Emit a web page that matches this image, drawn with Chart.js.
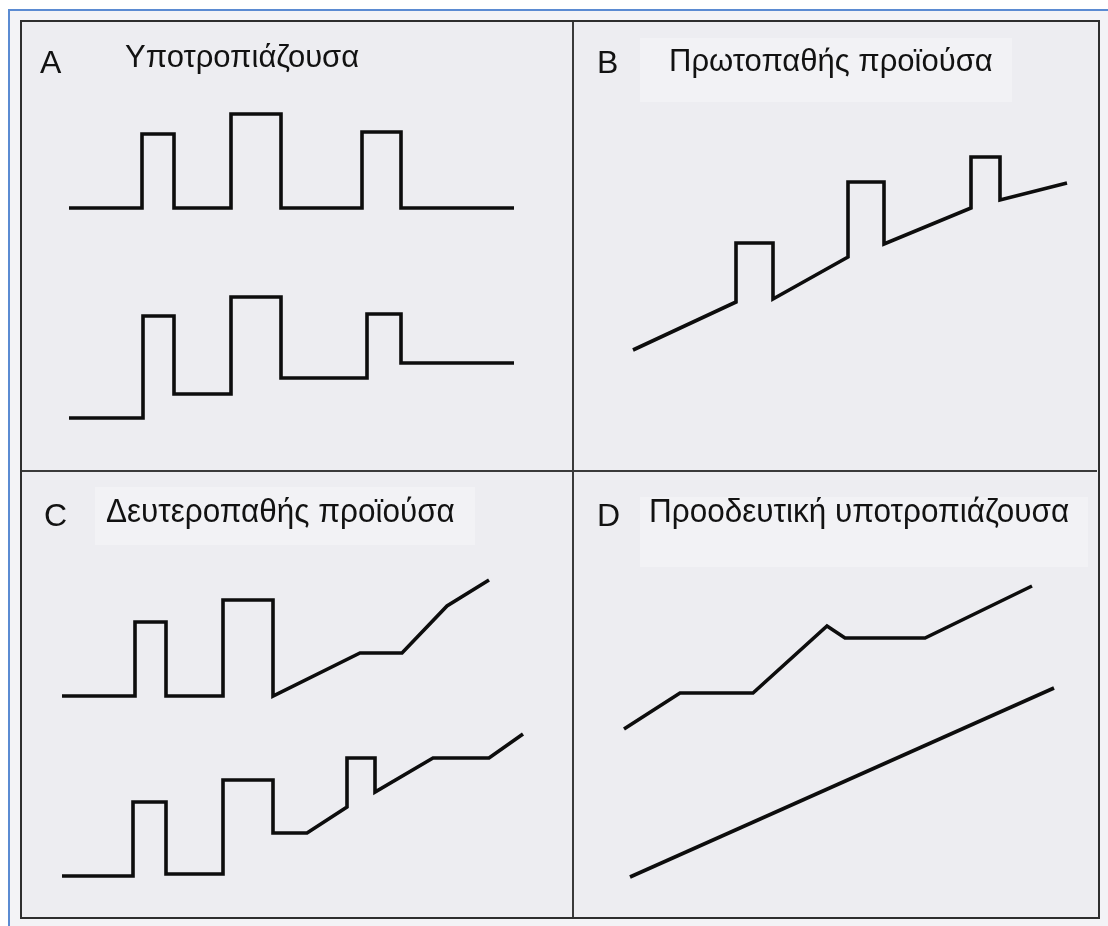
<!DOCTYPE html>
<html lang="el">
<head>
<meta charset="utf-8">
<title>Μορφές πορείας νόσου</title>
<script src="https://cdn.jsdelivr.net/npm/chart.js@4.4.1/dist/chart.umd.min.js"></script>
<style>
    html, body { margin: 0; padding: 0; background: #ffffff; }
    #page { position: relative; width: 1108px; height: 926px; overflow: hidden; background: #ffffff; }
    #sheet { position: absolute; left: 10px; top: 11px; right: 0; bottom: 0; background: #f3f3f6; }
    #blueTop { position: absolute; left: 8px; top: 9px; right: 0; height: 2px; background: #5b8bd2; }
    #blueLeft { position: absolute; left: 8px; top: 9px; bottom: 0; width: 2px; background: #5b8bd2; }
    #frame { position: absolute; left: 20px; top: 20px; width: 1080px; height: 899px;
             box-sizing: border-box; border: 2px solid #2e2e2e; background: #ededf1; }
    #divV { position: absolute; left: 572px; top: 22px; width: 2px; height: 895px; background: #3a3a3a; }
    #divH { position: absolute; left: 22px; top: 470px; width: 1075px; height: 2px; background: #3a3a3a; }
    .hl { position: absolute; background: rgba(255, 255, 255, 0.3); }
    .panel { position: absolute; }
    .lbl { position: absolute; font-family: "Liberation Sans", Arial, sans-serif; font-size: 31px;
           line-height: 31px; color: #121212; white-space: nowrap; transform-origin: left top; }
    .letter { font-size: 32px; line-height: 32px; }
    .tall { font-size: 31.5px; line-height: 31.5px; transform: scaleY(1.08); }
</style>
</head>
<body>
<div id="page">
    <div id="sheet"></div>
    <div id="blueTop"></div>
    <div id="blueLeft"></div>
    <div id="frame"></div>

    <div class="hl" style="left:640px; top:38px; width:372px; height:64px;"></div>
    <div class="hl" style="left:95px; top:487px; width:380px; height:58px;"></div>
    <div class="hl" style="left:640px; top:497px; width:448px; height:70px;"></div>

    <div id="divV"></div>
    <div id="divH"></div>

    <div class="panel" style="left:22px; top:22px; width:551px; height:449px;"><canvas id="chartA"></canvas></div>
    <div class="panel" style="left:573px; top:22px; width:525px; height:449px;"><canvas id="chartB"></canvas></div>
    <div class="panel" style="left:22px; top:471px; width:551px; height:446px;"><canvas id="chartC"></canvas></div>
    <div class="panel" style="left:573px; top:471px; width:525px; height:446px;"><canvas id="chartD"></canvas></div>

    <div class="lbl letter" style="left:40px; top:46px;">A</div>
    <div class="lbl" style="left:125px; top:41px;">Υποτροπιάζουσα</div>
    <div class="lbl letter" style="left:597px; top:46px;">B</div>
    <div class="lbl" style="left:669px; top:45px;">Πρωτοπαθής προϊούσα</div>
    <div class="lbl letter" style="left:44px; top:499px;">C</div>
    <div class="lbl tall" style="left:106px; top:494px;">Δευτεροπαθής προϊούσα</div>
    <div class="lbl letter" style="left:597px; top:499px;">D</div>
    <div class="lbl tall" style="left:649px; top:494px;">Προοδευτική υποτροπιάζουσα</div>
</div>

<script>
// χρόνος (x) / αναπηρία (y), σε μονάδες του κάθε πλαισίου
const relapsingTop = [[47,263],[120,263],[120,337],[152,337],[152,263],[209,263],[209,357],[259,357],
                      [259,263],[340,263],[340,339],[379,339],[379,263],[492,263]];
const relapsingBottom = [[47,53],[121,53],[121,155],[152,155],[152,77],[209,77],[209,174],[259,174],
                         [259,93],[345,93],[345,157],[379,157],[379,108],[492,108]];

const primaryProgressive = [[60,121],[163,169],[163,228],[200,228],[200,172],[275,214],[275,289],[311,289],
                            [311,227],[398,263],[398,314],[427,314],[427,271],[494,288]];

const secondaryTop = [[40,221],[113,221],[113,295],[144,295],[144,221],[201,221],[201,317],[251,317],
                      [251,221],[338,264],[380,264],[425,311],[467,337]];
const secondaryBottom = [[40,41],[111,41],[111,115],[144,115],[144,43],[201,43],[201,137],[251,137],
                         [251,84],[285,84],[325,110],[325,159],[353,159],[353,125],[411,159],[467,159],[501,183]];

const progRelapsingTop = [[51,188],[107,224],[180,224],[254,291],[272,279],[352,279],[459,331]];
const progRelapsingBottom = [[57,40],[481,229]];

const panelSizes = {
    chartA: [551, 449],
    chartB: [525, 449],
    chartC: [551, 446],
    chartD: [525, 446]
};


function toDataset(series) {
    return {
        data: series.map(p => ({ x: p[0], y: p[1] })),
        showLine: true,
        borderColor: '#0d0d0d',
        borderWidth: 3.6,
        borderCapStyle: 'butt',
        borderJoinStyle: 'miter',
        pointRadius: 0,
        tension: 0,
        fill: false,
        clip: false
    };
}


function drawPanel(canvasId, seriesList) {
    const ctx = document.getElementById(canvasId).getContext('2d');
    const size = panelSizes[canvasId];

    return new Chart(ctx, {
        type: 'scatter',
        data: { datasets: seriesList.map(toDataset) },
        options: {
            responsive: true,
            maintainAspectRatio: false,
            animation: false,
            events: [],
            layout: { padding: 0 },
            plugins: {
                legend: { display: false },
                tooltip: { enabled: false }
            },
            scales: {
                x: { type: 'linear', min: 0, max: size[0], display: false },
                y: { type: 'linear', min: 0, max: size[1], display: false }
            }
        }
    });
}


drawPanel('chartA', [relapsingTop, relapsingBottom]);
drawPanel('chartB', [primaryProgressive]);
drawPanel('chartC', [secondaryTop, secondaryBottom]);
drawPanel('chartD', [progRelapsingTop, progRelapsingBottom]);
</script>
</body>
</html>
